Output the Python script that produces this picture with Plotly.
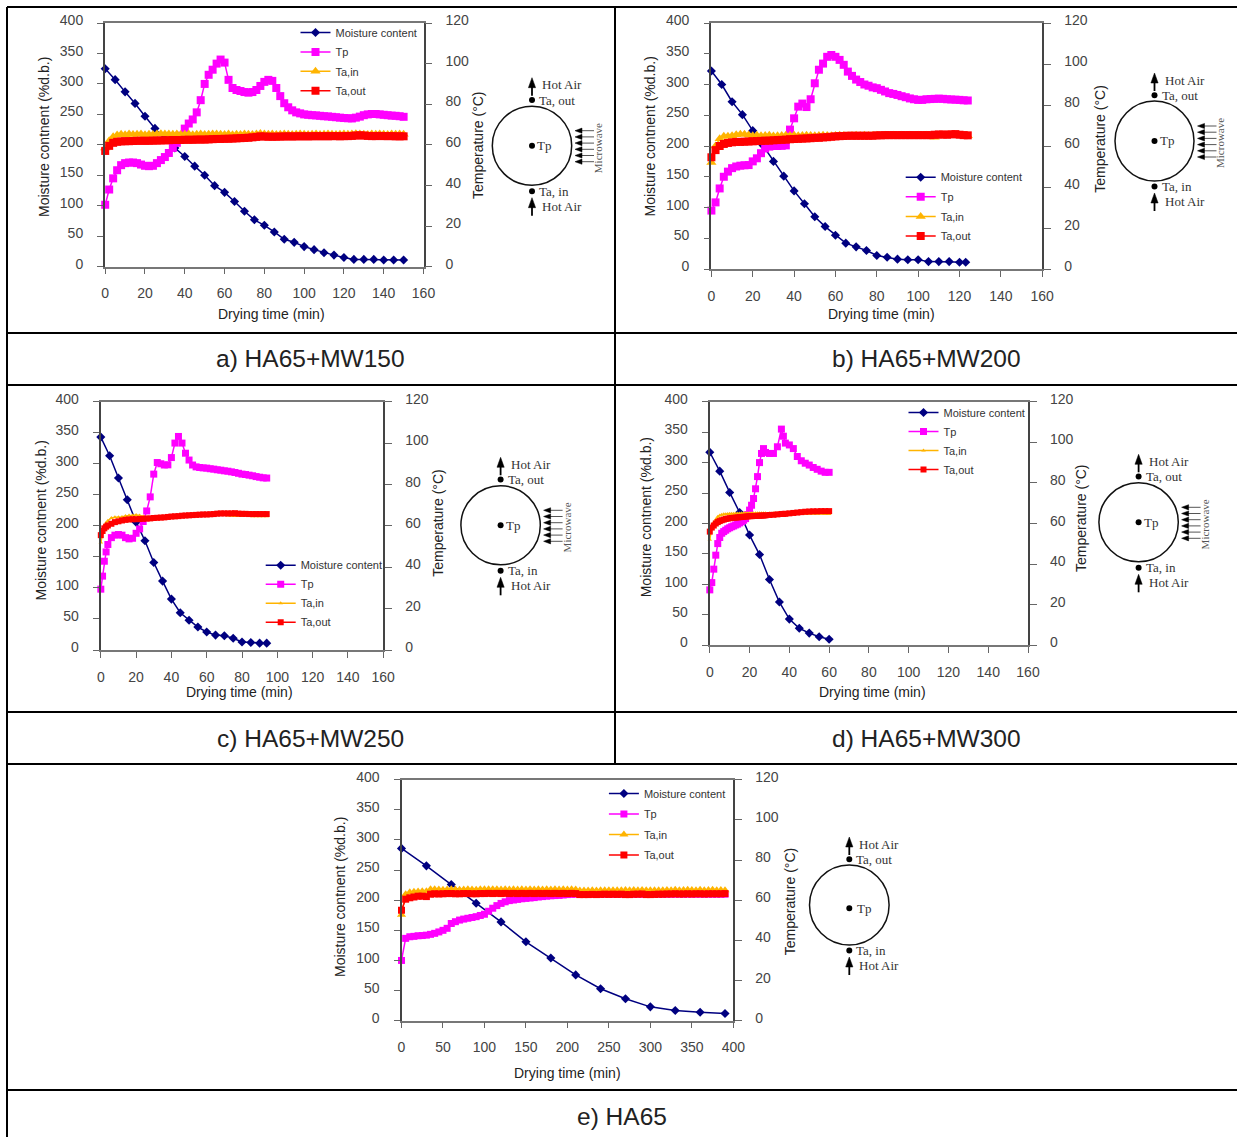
import plotly.graph_objects as go

W, H = 1237, 1137

# ---------- data ----------
series_names = ["Moisture content", "Tp", "Ta,in", "Ta,out"]
left_title = "Moisture contnent (%d.b.)"
right_title = "Temperature (°C)"
bottom_title = "Drying time (min)"
captions = ["a) HA65+MW150", "b) HA65+MW200", "c) HA65+MW250", "d) HA65+MW300", "e) HA65"]

a_mc_t = list(range(0, 155, 5))
a_mc = [325, 307, 287, 268, 247, 227, 209, 195, 181, 165, 150, 133, 122, 107, 91, 77, 68, 57, 45, 40, 33, 28, 23, 19, 15, 12, 12, 12, 11, 11, 11]
a_t = list(range(0, 152, 2))
a_tp = [30.5, 38, 43.5, 47.5, 50, 51, 51.3, 51.3, 51, 50.3,
        49.7, 49.5, 49.7, 51, 52.5, 54, 56, 58.5, 61, 64.5,
        68, 70.5, 72.5, 76, 82, 90, 94.5, 97, 100, 102,
        100.5, 92, 88, 87, 86.5, 86, 85.7, 86, 87, 89,
        91, 92, 91.5, 88, 84, 80.5, 78.5, 77, 76, 75.5,
        75, 74.8, 74.6, 74.5, 74.3, 74.1, 74, 73.8, 73.6, 73.4,
        73.2, 73.1, 73, 73.4, 73.9, 74.6, 75, 75.2, 75.2, 75,
        74.8, 74.6, 74.4, 74.3, 74.1, 73.8]
a_tain = [58.5, 62, 64, 64.8, 65.2, 65, 65.3, 65.1, 65.2, 65.3,
          65, 65.2, 65.1, 65.3, 65.5, 65.3, 65.4, 65.2, 65.3, 65.1,
          65.2, 65.3, 65, 65.2, 65.3, 65.1, 65.2, 65.4, 65.3, 65.2,
          65.1, 65.3, 65, 65.2, 65.1, 65.3, 65.2, 65.1, 65.3, 65.6,
          65.3, 65.2, 65.3, 65.1, 65.2, 65.3, 65.2, 65.1, 65.2, 65.3,
          65.2, 65.1, 65.2, 65.3, 65.1, 65.2, 65.3, 65.2, 65.1, 65.2,
          65.3, 65.2, 65.3, 65.5, 65.4, 65.2, 65.1, 65.3, 65.2, 65.3,
          65.2, 65.1, 65.3, 65.2, 65.3, 65.2]
a_taout = [57, 59.5, 61, 61.5, 61.7, 61.8, 61.8, 61.9, 62, 62,
           62, 62, 62.1, 62.1, 62.2, 62.2, 62.3, 62.4, 62.4, 62.4,
           62.5, 62.5, 62.5, 62.6, 62.6, 62.6, 62.7, 62.8, 62.9, 62.9,
           63, 63, 63.1, 63.2, 63.3, 63.4, 63.5, 63.7, 63.9, 64.2,
           64.1, 64, 64, 64, 64.1, 64.1, 64.2, 64.1, 64.2, 64.2,
           64.2, 64.2, 64.2, 64.3, 64.2, 64.3, 64.2, 64.3, 64.3, 64.2,
           64.3, 64.3, 64.4, 64.6, 64.7, 64.6, 64.4, 64.3, 64.3, 64.4,
           64.3, 64.3, 64.3, 64.2, 64.2, 64.2]

b_mc_t = [0, 5, 10, 15, 20, 25, 30, 35, 40, 45, 50, 55, 60, 65, 70, 75, 80, 85, 90, 95, 100, 105, 110, 115, 120, 123]
b_mc = [322, 300, 272, 251, 225, 201, 175, 151, 127, 106, 85, 69, 55, 42, 36, 30, 22, 19, 16, 15, 15, 12, 12, 12, 11, 11]
b_t = list(range(0, 126, 2))
b_tp = [28.5, 32.5, 39.3, 45, 47.5, 49.2, 50, 50.4, 50.6, 50.7,
        52.5, 54, 56.5, 58.8, 59.7, 60, 60, 60.1, 60.3, 68,
        73.5, 79.2, 80.7, 79, 82.8, 90.6, 97.2, 100.2, 103.5, 104.4,
        103.5, 102, 99.6, 96.3, 94.2, 92.4, 91.2, 90, 89.4, 88.6,
        88.2, 87.4, 86.6, 85.8, 85.4, 84.9, 84.3, 83.8, 83.2, 82.8,
        82.5, 82.5, 82.8, 82.9, 83, 83.1, 83, 82.8, 82.7, 82.6,
        82.5, 82.3, 82.2]
b_tain = [52, 60, 63.5, 64.7, 64.8, 65, 65.5, 65.7, 65.7, 65.4,
          65, 65.2, 65, 65.1, 65.2, 64.9, 65, 65.1, 65.2, 65.1,
          65.2, 65, 65.1, 65.2, 65.1, 65, 65.1, 65.2, 65.1, 65,
          65.1, 65.2, 65.1, 65, 65.1, 65.2, 65.1, 65.2, 65.1, 65.1,
          65.2, 65.1, 65.2, 65.1, 65.2, 65.1, 65.2, 65.1, 65.2, 65.1,
          65.2, 65.1, 65.2, 64.6, 64.3, 65, 65.2, 65.1, 65.2, 65.1,
          65.2, 65.1, 65]
b_taout = [54.5, 58, 60, 61, 61.5, 61.8, 62, 62, 62.1, 62.2,
           62.3, 62.4, 62.5, 62.6, 62.6, 62.8, 62.9, 63, 63.1, 63.3,
           63.4, 63.5, 63.6, 63.7, 63.8, 64, 64, 64.2, 64.3, 64.5,
           64.7, 64.8, 64.9, 65, 65, 65, 65, 65, 65, 65,
           65.2, 65.2, 65.3, 65.3, 65.3, 65.3, 65.3, 65.3, 65.3, 65.3,
           65.3, 65.3, 65.3, 65.3, 65.5, 65.6, 65.6, 65.5, 65.7, 65.8,
           65.5, 65.3, 65.2]

c_mc_t = [0, 5, 10, 15, 20, 25, 30, 35, 40, 45, 50, 55, 60, 65, 70, 75, 80, 85, 90, 94]
c_mc = [343, 313, 277, 242, 206, 176, 141, 111, 82, 60, 48, 37, 29, 24, 23, 19, 13, 12, 11, 11]
c_t = [0, 1, 2, 3] + list(range(4, 96, 2))
c_tp = [29.4, 35.7, 42.9, 47.4,
        51, 54.3, 55.5, 55.8, 55.5, 54.3, 53.7, 54,
        56.4, 58.5, 62.1, 67.2, 74, 85, 90.6, 90, 89.4, 89.5,
        93, 100, 103.2, 100, 95.1, 91.8, 89.4, 88.5, 88.2, 88,
        87.9, 87.6, 87.4, 87.1, 86.9, 86.6, 86.4, 86.1, 85.8, 85.4,
        85, 84.8, 84.5, 84.2, 83.8, 83.5, 83.2, 83.1]
c_tain = [52, 57, 60, 61.5,
          62.5, 63.8, 64.2, 64.2, 64.3, 64.8, 65, 65,
          65.2, 65, 64.5, 64.3, 64.2, 64.3, 64.2, 64.3, 64.3, 64.3,
          64.3, 64.4, 64.5, 64.6, 64.7, 64.7, 64.8, 64.9, 64.9, 65,
          65, 65.1, 65.3, 65.4, 65.3, 65.2, 65, 64.9, 64.8, 64.8,
          64.7, 64.7, 64.7, 64.6, 64.6, 64.6, 64.6, 64.6]
c_taout = [55.5, 57.5, 58.8, 59.6,
           60.2, 61, 61.8, 62.2, 62.6, 62.9, 63.1, 63.2,
           63.2, 63.3, 63.4, 63.5, 63.6, 63.8, 63.9, 64, 64.1, 64.3,
           64.5, 64.6, 64.7, 64.9, 65, 65.1, 65.2, 65.3, 65.4, 65.5,
           65.5, 65.6, 65.7, 65.9, 66, 66, 66, 66, 66.1, 65.9,
           65.8, 65.8, 65.7, 65.7, 65.7, 65.7, 65.7, 65.7]

d_mc_t = [0, 5, 10, 15, 20, 25, 30, 35, 40, 45, 50, 55, 60]
d_mc = [317, 286, 251, 218, 181, 149, 108, 71, 43, 28, 20, 14, 10]
d_t = list(range(0, 28)) + [28, 30, 32, 34, 36, 37, 38] + list(range(40, 62, 2))
d_tp = [27.3, 30.9, 37.5, 44.4, 50.1, 53.1, 55.2, 56, 56.7, 57.4,
        57.9, 58.4, 58.8, 59.3, 59.7, 60.3, 60.9, 61.6, 62.4, 64.4,
        66.6, 69, 72.3, 77.1, 83.1, 90, 94.5, 96.9,
        95, 94.5, 94.5, 97.8, 106.5, 103, 99.6,
        98.7, 96.9, 93, 90.9, 89.7, 88.8, 87.6, 86.7, 85.8, 85.2, 85.2]
d_tain = [52, 58, 60.5, 62, 63.3, 64, 64.3, 64.5, 64.6, 64.7,
          64.8, 64.8, 64.8, 64.9, 64.9, 64.9, 65, 65, 65, 65,
          65, 65, 65.1, 65.1, 65, 65, 65, 65,
          65, 65, 65, 65, 64.9, 64.9, 64.9,
          64.9, 64.9, 64.8, 64.8, 64.8, 64.8, 64.8, 64.8, 64.8, 64.7, 64.7]
d_taout = [56, 58, 59, 60, 60.7, 61.2, 61.6, 61.9, 62.2, 62.4,
           62.6, 62.7, 62.8, 62.9, 63, 63.1, 63.2, 63.3, 63.4, 63.5,
           63.6, 63.6, 63.7, 63.7, 63.8, 63.8, 63.9, 63.9,
           64, 64.2, 64.3, 64.5, 64.7, 64.7, 64.8,
           65, 65.2, 65.4, 65.6, 65.8, 65.9, 66, 66, 66.1, 66.1, 66.1]

e_mc_t = [0, 30, 60, 90, 120, 150, 180, 210, 240, 270, 300, 330, 360, 390]
e_mc = [286, 257, 226, 195, 164, 131, 104, 76, 53, 36.5, 23, 17, 14, 12]
e_t = list(range(0, 395, 5))
e_tp = [30, 41, 41.8, 42, 42.3, 42.4, 42.6, 43, 43.5, 44.2,
        45, 46, 48.4, 49.3, 50.1, 50.6, 51, 51.4, 51.8, 52.4,
        53, 54.5, 56, 57.3, 58.4, 59.2, 59.8, 60.1, 60.4, 60.7,
        60.9, 61.1, 61.3, 61.6, 61.8, 62, 62.2, 62.3, 62.4, 62.6,
        62.8, 62.9, 63, 63, 63, 63, 63, 63, 63, 63,
        63, 63, 63, 63, 63, 63, 63, 63, 63, 63,
        63, 63, 63, 63, 63, 63, 63, 63, 63, 63,
        63, 63, 63, 63, 63, 63, 63, 63, 63]
e_tain = [52.8, 63, 64, 64.2, 64.3, 64.4, 64.5, 65.5, 65.4, 65.3,
          65.2, 65.3, 65.4, 65.3, 65.2, 65.3, 65.4, 65.3, 65.2, 65.4,
          65.5, 65.4, 65.5, 65.4, 65.3, 65.4, 65.3, 65.4, 65.3, 65.4,
          65.3, 65.4, 65.3, 65.4, 65.3, 65.4, 65.3, 65.4, 65.3, 65.4,
          65.3, 65.4, 65.3, 64.8, 64.8, 64.8, 64.9, 64.8, 64.9, 65,
          64.9, 65, 64.9, 65, 65.1, 65, 65.1, 65, 65.1, 65,
          65, 64.9, 65, 64.9, 65.1, 65, 65.2, 65, 65.1, 65.2,
          65.1, 65, 65.2, 65, 65.1, 65.2, 65, 65.1, 65]
e_taout = [55, 60.5, 61.2, 61.6, 62, 62, 61.8, 63, 63.2, 63.1,
           63.2, 63.3, 63.3, 63.2, 63.2, 63.3, 63.3, 63.2, 63.2, 63.3,
           63.3, 63.4, 63.3, 63.4, 63.3, 63.4, 63.3, 63.4, 63.3, 63.4,
           63.3, 63.4, 63.3, 63.4, 63.3, 63.4, 63.3, 63.4, 63.3, 63.4,
           63.3, 63.4, 63.3, 62.8, 62.8, 62.8, 62.9, 62.8, 62.9, 63,
           62.9, 63, 62.9, 63, 62.8, 62.8, 63, 63, 63.1, 62.8,
           62.8, 62.9, 63, 63, 63.1, 63.1, 63.2, 63.1, 63.1, 63.2,
           63.1, 63.2, 63.2, 63.1, 63.2, 63.2, 63.2, 63.2, 63.3]

# ---------- styling / layout ----------
SANS = "Liberation Sans"
SERIF = "Liberation Serif"
NAVY, MAGENTA, AMBER, RED = "#000080", "#FF00FF", "#FFB400", "#FF0000"

panels = [
    dict(x=(105.2, 423.5), y=(23, 266.7), xmax=160, xdt=20, mc=(a_mc_t, a_mc),
         temp=(a_t, a_tp, a_tain, a_taout), ms=(7, 8, 9, 8),
         leg=(302.5, 33, 0.4), cap=(310, 358), dia=(532, 145.7, 39.7, 39.5, 0, True),
         titles=((44, 137), (478, 145), (271, 313.5))),
    dict(x=(711.4, 1042.2), y=(23, 269), xmax=160, xdt=20, mc=(b_mc_t, b_mc),
         temp=(b_t, b_tp, b_tain, b_taout), ms=(7, 8, 9, 8),
         leg=(907.7, 177.7, 0.6), cap=(926, 358), dia=(1154.5, 141, 39.5, 40, 0, True),
         titles=((649.5, 137), (1099.7, 139), (881.5, 314))),
    dict(x=(100.8, 383.2), y=(401.7, 650), xmax=160, xdt=20, mc=(c_mc_t, c_mc),
         temp=(c_t, c_tp, c_tain, c_taout), ms=(7, 7, 4, 6),
         leg=(267.7, 565.7, 0.0), cap=(310, 738), dia=(500.6, 525.3, 39.7, 39.5, 0, True),
         titles=((40.7, 520.8), (438, 522.8), (239.6, 692))),
    dict(x=(709.8, 1028), y=(401.7, 645.3), xmax=160, xdt=20, mc=(d_mc_t, d_mc),
         temp=(d_t, d_tp, d_tain, d_taout), ms=(7, 7, 4, 6),
         leg=(910.5, 413, 0.0), cap=(926, 738), dia=(1138.6, 522.3, 39.7, 39.5, 0, True),
         titles=((646, 517.3), (1081, 518), (872.8, 692))),
    dict(x=(401.5, 733.3), y=(779.7, 1020.7), xmax=400, xdt=50, mc=(e_mc_t, e_mc),
         temp=(e_t, e_tp, e_tain, e_taout), ms=(7, 7, 8, 7),
         leg=(610.9, 794, 1.5), cap=(622, 1116), dia=(849.3, 905, 39.8, 40, 3.3, False),
         titles=((340, 897), (789.6, 901.7), (567.6, 1073.3))),
]

for p in panels:
    assert len(p["mc"][0]) == len(p["mc"][1])
    for s in p["temp"][1:]:
        assert len(p["temp"][0]) == len(s), (len(p["temp"][0]), len(s))


def px(x):
    return x / W


def py(y):
    return 1 - y / H


fig = go.Figure()
layout = dict(
    width=W, height=H, margin=dict(l=0, r=0, t=0, b=0, autoexpand=False),
    paper_bgcolor="white", plot_bgcolor="rgba(0,0,0,0)", template="none", showlegend=True,
    font=dict(family=SANS, size=14, color="#404040"),
)
shapes, annotations = [], []


def add_line(x0, y0, x1, y1, color="black", width=2):
    shapes.append(dict(type="line", xref="paper", yref="paper", x0=px(x0), y0=py(y0), x1=px(x1),
                       y1=py(y1), line=dict(color=color, width=width), layer="above"))


def add_path(points, color="black"):
    d = "M " + " L ".join(f"{px(a):.5f},{py(b):.5f}" for a, b in points) + " Z"
    shapes.append(dict(type="path", path=d, xref="paper", yref="paper", fillcolor=color,
                       line=dict(color=color, width=0.5), layer="above"))


def add_dot(x, y, r=3):
    shapes.append(dict(type="circle", xref="paper", yref="paper", x0=px(x - r), x1=px(x + r),
                       y0=py(y + r), y1=py(y - r), fillcolor="black", line=dict(color="black", width=0),
                       layer="above"))


def add_text(x, y, text, size=13, family=SERIF, color="#333333", xanchor="left", angle=0):
    annotations.append(dict(xref="paper", yref="paper", x=px(x), y=py(y), text=text, showarrow=False,
                            xanchor=xanchor, yanchor="middle", textangle=angle,
                            font=dict(family=family, size=size, color=color)))


def diagram(cx, cy, rx, ry, tp_dy, microwave):
    shapes.append(dict(type="circle", xref="paper", yref="paper", x0=px(cx - rx), x1=px(cx + rx),
                       y0=py(cy + ry), y1=py(cy - ry), line=dict(color="#111111", width=1.5), layer="above"))
    add_dot(cx, cy + tp_dy)
    add_dot(cx, cy - 45.7)
    add_dot(cx, cy + 45.5)
    for top, bot in ((cy - 68, cy - 50), (cy + 52, cy + 70)):
        add_line(cx, bot, cx, top + 6, width=1.8)
        add_path([(cx, top), (cx - 3.6, top + 10), (cx + 3.6, top + 10)])
    add_text(cx + 8, cy - 60.7, "Hot Air")
    add_text(cx + 5, cy - 45.7, "Ta, out")
    add_text(cx + (6 if not microwave else 3), cy + tp_dy, "Tp")
    add_text(cx + 5, cy + 45.5, "Ta, in")
    add_text(cx + 8, cy + 60.5, "Hot Air")
    if microwave:
        for k in range(6):
            ya = cy - 15 + k * 6.2
            add_line(cx + 46, ya, cx + 62, ya, color="#555555", width=1)
            add_path([(cx + 43, ya), (cx + 50, ya - 2.6), (cx + 50, ya + 2.6)])
        add_text(cx + 66, cy + 2.5, "Microwave", size=11, color="#555555", xanchor="center", angle=-90)


LABEL_SHIFT = 2.8  # tick labels sit a little above their tick marks in the reference

for i, p in enumerate(panels):
    n = i + 1
    xa = f"x{n}"
    k = 5 * i
    ya, ya2, ya3, ya4, ya5 = (f"y{k + j}" for j in range(1, 6))
    leg = "legend" if i == 0 else f"legend{n}"
    x0, x1 = p["x"]
    ytop, ybot = p["y"]
    xs_mc, ys_mc = p["mc"]
    ts, tp, tain, taout = p["temp"]
    msd, mst, msi, mso = p["ms"]
    common = dict(mode="lines+markers", cliponaxis=False, legend=leg, hoverinfo="skip", xaxis=xa)
    # empty traces keep the label-only axes on the page
    for lab_axis in (ya4, ya5):
        fig.add_trace(go.Scatter(x=[None], y=[None], xaxis=xa, yaxis=lab_axis, mode="markers",
                                 showlegend=False, hoverinfo="skip", legend=leg))
    fig.add_trace(go.Scatter(x=xs_mc, y=ys_mc, yaxis=ya, name=series_names[0], legendgroup=f"g{n}a",
                             line=dict(color=NAVY, width=1.5), marker=dict(symbol="diamond", size=msd, color=NAVY), **common))
    fig.add_trace(go.Scatter(x=ts, y=tp, yaxis=ya2, name=series_names[1], legendgroup=f"g{n}b",
                             line=dict(color=MAGENTA, width=1.5), marker=dict(symbol="square", size=mst, color=MAGENTA), **common))
    fig.add_trace(go.Scatter(x=ts, y=tain, yaxis=ya2, name=series_names[2], legendgroup=f"g{n}c",
                             line=dict(color=AMBER, width=1.5), marker=dict(symbol="triangle-up", size=msi, color=AMBER), **common))
    fig.add_trace(go.Scatter(x=ts, y=taout, yaxis=ya2, name=series_names[3], legendgroup=f"g{n}d",
                             line=dict(color=RED, width=1.5), marker=dict(symbol="square", size=mso, color=RED), **common))

    tick_font = dict(family=SANS, size=14, color="#444444")
    dom = [py(ybot), py(ytop)]
    dom_lab = [py(ybot - LABEL_SHIFT), py(ytop - LABEL_SHIFT)]
    layout[f"xaxis{n}"] = dict(
        domain=[px(x0), px(x1)], anchor=ya, range=[0, p["xmax"]], dtick=p["xdt"], tick0=0,
        ticks="outside", ticklen=6, tickcolor="#666666", showgrid=False, zeroline=False,
        showline=True, linecolor="#777777", linewidth=1.5, mirror=True,
        tickfont=tick_font, ticklabelstandoff=7,
    )
    layout[f"yaxis{k + 1}"] = dict(
        domain=dom, anchor=xa, range=[0, 400], dtick=50, tick0=0,
        ticks="outside", ticklen=6, tickcolor="#666666", showgrid=False, zeroline=False,
        showline=True, linecolor="#444444", linewidth=1.5, showticklabels=False,
    )
    layout[f"yaxis{k + 2}"] = dict(
        domain=dom, anchor=xa, overlaying=ya, side="right",
        range=[0, 120], dtick=20, tick0=0, ticks="outside", ticklen=7, tickcolor="#666666",
        showgrid=False, zeroline=False, showline=True, linecolor="#444444", linewidth=1.5,
        showticklabels=False,
    )
    layout[f"yaxis{k + 3}"] = dict(
        domain=dom, anchor=xa, overlaying=ya, side="right",
        range=[0, 120], dtick=20, tick0=0, ticks="inside", ticklen=5, tickcolor="#666666",
        showgrid=False, zeroline=False, showline=False, showticklabels=False,
    )
    # label-only axes, same scale as the left and right axes, a little higher
    layout[f"yaxis{k + 4}"] = dict(
        domain=dom_lab, anchor=xa, range=[0, 400], dtick=50, tick0=0, ticks="", showgrid=False,
        zeroline=False, showline=False, tickfont=tick_font, ticklabelstandoff=21,
    )
    layout[f"yaxis{k + 5}"] = dict(
        domain=dom_lab, anchor=xa, side="right", range=[0, 120], dtick=20, tick0=0, ticks="",
        showgrid=False, zeroline=False, showline=False, tickfont=tick_font, ticklabelstandoff=21,
    )
    lx, ly, gap = p["leg"]
    layout[leg] = dict(
        x=px(lx - 7), y=py(ly - 15), xanchor="left", yanchor="top", bgcolor="rgba(0,0,0,0)",
        borderwidth=0, font=dict(family=SANS, size=11, color="#333333"), tracegroupgap=gap,
        itemclick=False, itemdoubleclick=False, traceorder="grouped",
    )
    (ltx, lty), (rtx, rty), (btx, bty) = p["titles"]
    add_text(ltx, lty, left_title, size=14, family=SANS, color="#222222", xanchor="center", angle=-90)
    add_text(rtx, rty, right_title, size=14, family=SANS, color="#222222", xanchor="center", angle=-90)
    add_text(btx, bty, bottom_title, size=14, family=SANS, color="#222222", xanchor="center")
    add_text(p["cap"][0], p["cap"][1], captions[i], size=24.5, family=SANS, color="#222222", xanchor="center")
    diagram(*p["dia"])

# table frame
for y in (7, 333, 385, 712, 764, 1090):
    add_line(7, y, W, y)
add_line(7, 7, 7, H)
add_line(615, 7, 615, 764)

layout["shapes"] = shapes
layout["annotations"] = annotations
fig.update_layout(**layout)
fig.write_html("out.html", config={"displayModeBar": False},
               post_script="document.body.style.margin='0';document.body.style.overflow='hidden';")
